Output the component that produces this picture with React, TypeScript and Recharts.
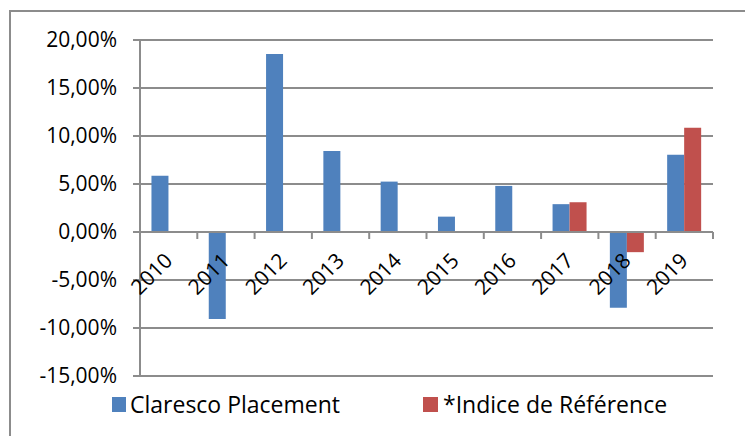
import React from 'react';
import { BarChart, Bar, XAxis, YAxis, CartesianGrid, ReferenceLine } from 'recharts';

const years = ['2010', '2011', '2012', '2013', '2014', '2015', '2016', '2017', '2018', '2019'];
const claresco = [5.85, -9.05, 18.55, 8.45, 5.25, 1.6, 4.8, 2.9, -7.9, 8.05];
const indice: (number | null)[] = [null, null, null, null, null, null, null, 3.1, -2.1, 10.85];
const yTicks = [-15, -10, -5, 0, 5, 10, 15, 20];
const seriesNames = ['Claresco Placement', '*Indice de Référence'];

const data = years.map((y, i) => ({ year: y, claresco: claresco[i], indice: indice[i] }));

const W = 745;
const H = 436;
const TOP = 40;
const LEFT = 140;
const RIGHT_END = 713;
const BOTTOM_END = 376;
const Y_MIN = -15;
const Y_MAX = 20;
const PLOT_H = BOTTOM_END - TOP;
const BAND = (RIGHT_END - LEFT) / years.length;
const ZERO_Y = TOP + ((Y_MAX - 0) / (Y_MAX - Y_MIN)) * PLOT_H;
const X_AXIS_H = 30;

const BLUE = '#4F81BD';
const RED = '#C0504D';
const GRID = '#8c8c8c';
const FONT = '"Open Sans", "Noto Sans", sans-serif';
const FS = 21;
const LFS = 23;

const fmt = (v: number) => v.toFixed(2).replace('.', ',') + '%';

const XTick = (props: any) => {
  const { x, index, payload } = props;
  const last = index === years.length - 1;
  const ax = x + 5;
  const ay = ZERO_Y + 30;
  return (
    <g>
      <line x1={x - BAND / 2} x2={x - BAND / 2} y1={ZERO_Y} y2={ZERO_Y + 7} stroke={GRID} strokeWidth={2} />
      {last && <line x1={x + BAND / 2} x2={x + BAND / 2} y1={ZERO_Y} y2={ZERO_Y + 7} stroke={GRID} strokeWidth={2} />}
      <text
        x={ax}
        y={ay}
        textAnchor="end"
        transform={`rotate(-45, ${ax}, ${ay})`}
        fontFamily={FONT}
        fontSize={FS}
        fill="#000"
      >
        {payload.value}
      </text>
    </g>
  );
};

export default function App() {
  return (
    <div style={{ position: 'absolute', left: 0, top: 0, width: W, height: H, background: '#fff', overflow: 'hidden' }}>
      <div
        style={{
          position: 'absolute',
          left: 9,
          top: 10,
          width: W,
          height: H,
          borderLeft: `2px solid ${GRID}`,
          borderTop: `2px solid ${GRID}`,
        }}
      />
      <div style={{ position: 'absolute', left: 0, top: 0 }}>
        <BarChart
          width={W}
          height={H}
          data={data}
          margin={{ top: TOP, left: 10, right: W - RIGHT_END, bottom: H - BOTTOM_END - X_AXIS_H }}
          barCategoryGap="20%"
          barGap={0}
        >
          <CartesianGrid vertical={false} stroke={GRID} strokeWidth={2} />
          <XAxis dataKey="year" height={X_AXIS_H} axisLine={false} tickLine={false} tick={<XTick />} interval={0} />
          <YAxis
            width={130}
            domain={[Y_MIN, Y_MAX]}
            ticks={yTicks}
            tickFormatter={fmt}
            axisLine={{ stroke: GRID, strokeWidth: 2 }}
            tickLine={{ stroke: GRID, strokeWidth: 2 }}
            tickSize={7}
            tickMargin={16}
            tick={{ fill: '#000', fontFamily: FONT, fontSize: FS }}
            interval={0}
          />
          <ReferenceLine y={0} stroke={GRID} strokeWidth={2} />
          <Bar dataKey="claresco" name={seriesNames[0]} fill={BLUE} isAnimationActive={false} />
          <Bar dataKey="indice" name={seriesNames[1]} fill={RED} isAnimationActive={false} />
        </BarChart>
      </div>
      <div style={{ position: 'absolute', left: 0, top: 389, width: W, height: 32, fontFamily: FONT, fontSize: LFS, color: '#000' }}>
        <div style={{ position: 'absolute', left: 112, top: 8, width: 14, height: 15, background: BLUE }} />
        <div style={{ position: 'absolute', left: 130, top: 0, whiteSpace: 'nowrap', lineHeight: '30px' }}>{seriesNames[0]}</div>
        <div style={{ position: 'absolute', left: 423, top: 8, width: 15, height: 15, background: RED }} />
        <div style={{ position: 'absolute', left: 443, top: 0, whiteSpace: 'nowrap', lineHeight: '30px' }}>{seriesNames[1]}</div>
      </div>
    </div>
  );
}
